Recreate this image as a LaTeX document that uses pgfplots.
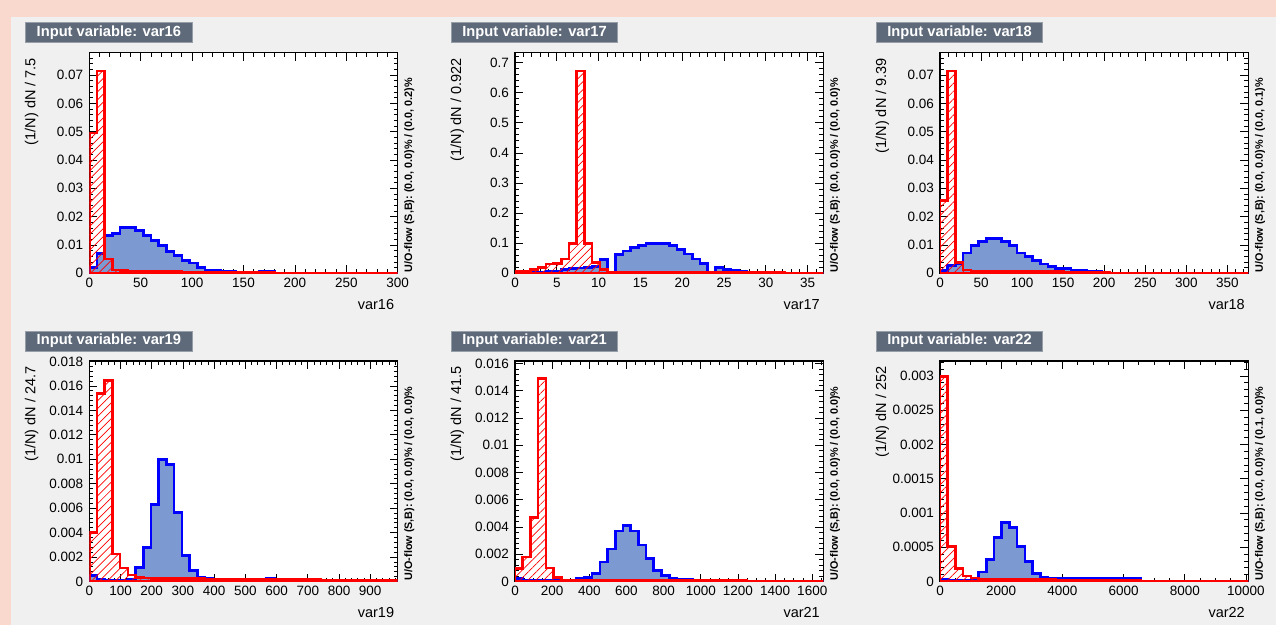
\documentclass[border=0pt]{standalone}
\usepackage{fontspec}
\setmainfont{Liberation Sans}
\usepackage{pgfplots}
\pgfplotsset{compat=1.18}
\usepackage{pgfplotstable}
\usetikzlibrary{patterns.meta}

\definecolor{pinkbg}{RGB}{249,216,205}
\definecolor{graybg}{RGB}{240,240,240}
\definecolor{sigfill}{RGB}{125,153,209}
\definecolor{sigline}{RGB}{0,0,255}
\definecolor{bkgline}{RGB}{255,0,0}
\definecolor{boxfill}{RGB}{94,106,122}
\definecolor{boxline}{RGB}{150,158,168}

\newcommand\tickfont{\fontsize{13.5}{15}\selectfont}
\newcommand\labfont{\fontsize{14.5}{16}\selectfont}
\newcommand\uofont{\fontsize{10.8}{12}\selectfont\bfseries}
\newcommand\boxfont{\fontsize{14.7}{16}\selectfont\bfseries}

\pgfplotstableread{
x s b
0 0.0020 0.0496
7.5 0.0069 0.0714
15 0.0134 0.0051
22.5 0.0140 0.0012
30 0.0161 0.0009
37.5 0.0161 0.0008
45 0.0151 0.0008
52.5 0.0134 0.0008
60 0.0116 0.0007
67.5 0.0098 0.0007
75 0.0078 0.0006
82.5 0.0063 0.0006
90 0.0045 0.0005
97.5 0.0036 0.0005
105 0.0021 0.0005
112.5 0.0012 0.0005
120 0.0011 0.0005
127.5 0.0007 0.0004
135 0.0006 0.0004
142.5 0.0005 0.0004
150 0.0005 0.0004
157.5 0.0005 0.0004
165 0.0006 0.0004
172.5 0.0006 0.0004
180 0.0001 0.0001
187.5 0.0001 0.0001
195 0.0001 0.0001
202.5 0 0.0001
210 0 0.0001
217.5 0 0.0001
225 0 0.0001
232.5 0 0.0001
240 0 0.0001
247.5 0 0.0001
255 0 0.0001
262.5 0 0.0001
270 0 0.0001
277.5 0 0.0001
285 0 0.0001
292.5 0 0.0001
300 0 0.0001
}\tA

\pgfplotstableread{
x s b
0 0.002 0.008
0.922 0.002 0.008
1.844 0.003 0.012
2.766 0.004 0.020
3.688 0.006 0.031
4.61 0.008 0.033
5.532 0.012 0.048
6.454 0.015 0.100
7.376 0.018 0.672
8.298 0.020 0.100
9.22 0.022 0.035
10.142 0.045 0.013
11.064 0.001 0.003
11.986 0.062 0.003
12.908 0.074 0.003
13.83 0.086 0.003
14.752 0.093 0.003
15.674 0.099 0.003
16.596 0.100 0.003
17.518 0.099 0.003
18.44 0.092 0.003
19.362 0.080 0.003
20.284 0.064 0.003
21.206 0.048 0.003
22.128 0.033 0.003
23.05 0.001 0.002
23.972 0.020 0.002
24.894 0.013 0.002
25.816 0.009 0.002
26.738 0.005 0.002
27.66 0.004 0.002
28.582 0.004 0.002
29.504 0.004 0.002
30.426 0.001 0.002
31.348 0.001 0.002
32.27 0.001 0.001
33.192 0.001 0.001
34.114 0.001 0.001
35.036 0.001 0.001
35.958 0.001 0.001
36.88 0.001 0.001
}\tB

\pgfplotstableread{
x s b
0 0.0009 0.0257
9.39 0.0027 0.0714
18.78 0.0035 0.0039
28.17 0.0072 0.0012
37.56 0.0098 0.0008
46.95 0.0113 0.0007
56.34 0.0122 0.0007
65.73 0.0122 0.0007
75.12 0.0113 0.0007
84.51 0.0098 0.0007
93.9 0.0072 0.0006
103.29 0.0059 0.0006
112.68 0.0045 0.0006
122.07 0.0033 0.0006
131.46 0.0024 0.0006
140.85 0.0016 0.0006
150.24 0.0016 0.0004
159.63 0.0010 0.0004
169.02 0.0010 0.0004
178.41 0.0007 0.0004
187.8 0.0007 0.0004
197.19 0.0005 0.0004
206.58 0.0001 0.0001
215.97 0.0001 0.0001
225.36 0 0.0001
234.75 0 0.0001
244.14 0 0.0001
253.53 0 0.0001
262.92 0 0.0001
272.31 0 0.0001
281.7 0 0.0001
291.09 0 0.0001
300.48 0 0.0001
309.87 0 0.0001
319.26 0 0.0001
328.65 0 0.0001
338.04 0 0.0001
347.43 0 0.0001
356.82 0 0.0001
366.21 0 0.0001
375.6 0 0.0001
}\tC

\pgfplotstableread{
x s b
0 0.0005 0.0040
24.7 0.0002 0.01536
49.4 0.0001 0.01645
74.1 0.0001 0.00226
98.8 0.0001 0.00109
123.5 0.0002 0.00054
148.2 0.00117 0.00035
172.9 0.0028 0.0003
197.6 0.0063 0.00025
222.3 0.00996 0.00025
247 0.00955 0.00025
271.7 0.00567 0.00025
296.4 0.00215 0.00025
321.1 0.0009 0.00025
345.8 0.00035 0.00025
370.5 0.0003 0.0002
395.2 0.0002 0.0002
419.9 0.00015 0.0002
444.6 0.00015 0.0002
469.3 0.00015 0.0002
494 0.00015 0.0002
518.7 0.00015 0.0002
543.4 0.00015 0.0002
568.1 0.00025 0.00015
592.8 0.00005 0.00015
617.5 0.00003 0.00015
642.2 0.00003 0.00015
666.9 0.00003 0.00015
691.6 0.00003 0.00015
716.3 0.00003 0.00015
741 0.00003 0.0001
765.7 0.00003 0.0001
790.4 0.00003 0.0001
815.1 0.00003 0.0001
839.8 0.00003 0.0001
864.5 0.00003 0.0001
889.2 0.00003 0.0001
913.9 0.00003 0.0001
938.6 0.00003 0.0001
963.3 0.00003 0.0001
988 0.00003 0.0001
}\tD

\pgfplotstableread{
x s b
0 0.0002 0.00094
41.5 0.0001 0.0018
83 0.0001 0.0047
124.5 0.0001 0.0149
166 0.0001 0.0010
207.5 0.0001 0.0003
249 0.0001 0.0001
290.5 0.0001 0.0001
332 0.0002 0.0001
373.5 0.0003 0.0001
415 0.0006 0.0001
456.5 0.00143 0.0001
498 0.0024 0.0001
539.5 0.0037 0.0001
581 0.0041 0.0001
622.5 0.0037 0.0001
664 0.00267 0.0001
705.5 0.00167 0.0001
747 0.00081 0.0001
788.5 0.00044 0.0001
830 0.00027 0.0001
871.5 0.00015 0.0001
913 0.00015 0.0001
954.5 0.00012 0.0001
996 0.00012 0.0001
1037.5 0.00012 0.0001
1079 0.00012 0.0001
1120.5 0.00012 0.0001
1162 0.00012 0.0001
1203.5 0.00012 0.0001
1245 0.00002 0.00005
1286.5 0.00002 0.00005
1328 0.00002 0.00005
1369.5 0.00002 0.00005
1411 0.00002 0.00005
1452.5 0.00002 0.00005
1494 0.00002 0.00005
1535.5 0.00002 0.00005
1577 0.00002 0.00005
1618.5 0.00002 0.00005
1660 0.00002 0.00005
}\tE

\pgfplotstableread{
x s b
0 0.00003 0.00299
252 0.00002 0.00051
504 0.00002 0.00019
756 0.00002 0.00008
1008 0.00003 0.00005
1260 0.00014 0.00003
1512 0.00032 0.00003
1764 0.00064 0.00003
2016 0.00086 0.00003
2268 0.00079 0.00003
2520 0.00051 0.00003
2772 0.00029 0.00003
3024 0.00012 0.00003
3276 0.00006 0.00003
3528 0.00004 0.00003
3780 0.00004 0.00002
4032 0.00004 0.00002
4284 0.00004 0.00002
4536 0.00004 0.00002
4788 0.00004 0.00002
5040 0.00004 0.00002
5292 0.00004 0.00002
5544 0.00004 0.00002
5796 0.00004 0.00002
6048 0.00004 0.00002
6300 0.00004 0.00002
6552 0 0.00001
6804 0 0.00001
7056 0 0.00001
7308 0 0.00001
7560 0 0.00001
7812 0 0.00001
8064 0 0.00001
8316 0 0.00001
8568 0 0.00001
8820 0 0.00001
9072 0 0.00001
9324 0 0.00001
9576 0 0.00001
9828 0 0.00001
10080 0 0.00001
}\tF

\pgfplotsset{
  tmva/.style={
    scale only axis, width=308.4pt, height=220.6pt, anchor=south west,
    xmin=0, ymin=0, scaled ticks=false,
    axis background/.style={fill=white},
    axis line style={black, line width=1.3pt},
    tick style={black, line width=0.8pt},
    major tick length=8pt, minor tick length=4pt,
    xticklabel style={font=\tickfont, inner sep=0pt, anchor=north, yshift=-4.6pt},
    yticklabel style={font=\tickfont, inner sep=0pt, anchor=east, xshift=-6pt},
  },
  sig/.style={const plot, draw=sigline, line width=2.6pt, line join=miter, fill=sigfill},
  bkg/.style={const plot, draw=bkgline, line width=2.6pt, line join=miter,
    pattern={Lines[angle=45,distance=5.6pt,line width=0.7pt]}, pattern color=bkgline},
}

\newcommand\decor[6]{%
  \node[fill=boxfill, draw=boxline, line width=0.8pt, text=white, font=\boxfont,
        inner xsep=11pt, inner ysep=0pt, minimum height=20pt, anchor=west]
        at ({#1pt-64pt},{#2pt+240.6pt}) {Input variable: #3};
  \node[rotate=90, anchor=east, font=\labfont, inner sep=0pt]
        at ({#1pt-57.6pt},{#2pt+215.3pt}) {(1/N) dN / #4};
  \node[rotate=90, anchor=west, font=\uofont, inner sep=0pt]
        at ({#1pt+320pt},{#2pt+1pt}) {U/O-flow (S,B): #5};
  \node[anchor=east, font=\labfont, inner sep=0pt]
        at ({#1pt+305pt},{#2pt-31.5pt}) {#6};
}

\begin{document}
\begin{tikzpicture}
\fill[pinkbg] (0,0) rectangle (1276pt,625pt);
\fill[graybg] (11pt,0) rectangle (1276pt,608pt);

% ---------- var16
\begin{axis}[tmva, at={(89.3pt,351.7pt)}, xmax=300, ymax=0.0779,
  xtick={0,50,100,150,200,250,300}, xticklabels={0,50,100,150,200,250,300},
  minor xtick={0,10,...,300},
  ytick={0,0.01,0.02,0.03,0.04,0.05,0.06,0.07},
  yticklabels={0,0.01,0.02,0.03,0.04,0.05,0.06,0.07},
  minor ytick={0.002,0.004,0.006,0.008,0.012,0.014,0.016,0.018,0.022,0.024,0.026,0.028,0.032,0.034,0.036,0.038,0.042,0.044,0.046,0.048,0.052,0.054,0.056,0.058,0.062,0.064,0.066,0.068,0.072,0.074,0.076}]
\addplot[sig] table[x=x,y=s]{\tA} \closedcycle;
\addplot[bkg] table[x=x,y=b]{\tA} \closedcycle;
\end{axis}
\decor{89.3}{351.7}{var16}{7.5}{(0.0, 0.0)\% / (0.0, 0.2)\%}{var16}

% ---------- var17
\begin{axis}[tmva, at={(515pt,351.7pt)}, xmax=36.88, ymax=0.733,
  xtick={0,5,10,15,20,25,30,35}, xticklabels={0,5,10,15,20,25,30,35},
  minor xtick={0,1,...,36},
  ytick={0,0.1,0.2,0.3,0.4,0.5,0.6,0.7},
  yticklabels={0,0.1,0.2,0.3,0.4,0.5,0.6,0.7},
  minor ytick={0.02,0.04,0.06,0.08,0.12,0.14,0.16,0.18,0.22,0.24,0.26,0.28,0.32,0.34,0.36,0.38,0.42,0.44,0.46,0.48,0.52,0.54,0.56,0.58,0.62,0.64,0.66,0.68,0.72}]
\addplot[sig] table[x=x,y=s]{\tB} \closedcycle;
\addplot[bkg] table[x=x,y=b]{\tB} \closedcycle;
\end{axis}
\decor{515}{351.7}{var17}{0.922}{(0.0, 0.0)\% / (0.0, 0.0)\%}{var17}

% ---------- var18
\begin{axis}[tmva, at={(940pt,351.7pt)}, xmax=375.6, ymax=0.0779,
  xtick={0,50,100,150,200,250,300,350}, xticklabels={0,50,100,150,200,250,300,350},
  minor xtick={0,10,...,370},
  ytick={0,0.01,0.02,0.03,0.04,0.05,0.06,0.07},
  yticklabels={0,0.01,0.02,0.03,0.04,0.05,0.06,0.07},
  minor ytick={0.002,0.004,0.006,0.008,0.012,0.014,0.016,0.018,0.022,0.024,0.026,0.028,0.032,0.034,0.036,0.038,0.042,0.044,0.046,0.048,0.052,0.054,0.056,0.058,0.062,0.064,0.066,0.068,0.072,0.074,0.076}]
\addplot[sig] table[x=x,y=s]{\tC} \closedcycle;
\addplot[bkg] table[x=x,y=b]{\tC} \closedcycle;
\end{axis}
\decor{940}{351.7}{var18}{9.39}{(0.0, 0.0)\% / (0.0, 0.1)\%}{var18}

% ---------- var19
\begin{axis}[tmva, at={(89.3pt,43.5pt)}, xmax=988, ymax=0.01805,
  xtick={0,100,200,300,400,500,600,700,800,900}, xticklabels={0,100,200,300,400,500,600,700,800,900},
  minor xtick={0,20,...,980},
  ytick={0,0.002,0.004,0.006,0.008,0.01,0.012,0.014,0.016,0.018},
  yticklabels={0,0.002,0.004,0.006,0.008,0.01,0.012,0.014,0.016,0.018},
  minor ytick={0.0004,0.0008,0.0012,0.0016,0.0024,0.0028,0.0032,0.0036,0.0044,0.0048,0.0052,0.0056,0.0064,0.0068,0.0072,0.0076,0.0084,0.0088,0.0092,0.0096,0.0104,0.0108,0.0112,0.0116,0.0124,0.0128,0.0132,0.0136,0.0144,0.0148,0.0152,0.0156,0.0164,0.0168,0.0172,0.0176}]
\addplot[sig] table[x=x,y=s]{\tD} \closedcycle;
\addplot[bkg] table[x=x,y=b]{\tD} \closedcycle;
\end{axis}
\decor{89.3}{43.5}{var19}{24.7}{(0.0, 0.0)\% / (0.0, 0.0)\%}{var19}

% ---------- var21
\begin{axis}[tmva, at={(515pt,43.5pt)}, xmax=1660, ymax=0.0162,
  xtick={0,200,400,600,800,1000,1200,1400,1600}, xticklabels={0,200,400,600,800,1000,1200,1400,1600},
  minor xtick={0,50,...,1650},
  ytick={0,0.002,0.004,0.006,0.008,0.01,0.012,0.014,0.016},
  yticklabels={0,0.002,0.004,0.006,0.008,0.01,0.012,0.014,0.016},
  minor ytick={0.0004,0.0008,0.0012,0.0016,0.0024,0.0028,0.0032,0.0036,0.0044,0.0048,0.0052,0.0056,0.0064,0.0068,0.0072,0.0076,0.0084,0.0088,0.0092,0.0096,0.0104,0.0108,0.0112,0.0116,0.0124,0.0128,0.0132,0.0136,0.0144,0.0148,0.0152,0.0156}]
\addplot[sig] table[x=x,y=s]{\tE} \closedcycle;
\addplot[bkg] table[x=x,y=b]{\tE} \closedcycle;
\end{axis}
\decor{515}{43.5}{var21}{41.5}{(0.0, 0.0)\% / (0.0, 0.0)\%}{var21}

% ---------- var22
\begin{axis}[tmva, at={(940pt,43.5pt)}, xmax=10080, ymax=0.00322,
  xtick={0,2000,4000,6000,8000,10000}, xticklabels={0,2000,4000,6000,8000,10000},
  minor xtick={0,500,...,10000},
  ytick={0,0.0005,0.001,0.0015,0.002,0.0025,0.003},
  yticklabels={0,0.0005,0.001,0.0015,0.002,0.0025,0.003},
  minor ytick={0.0001,0.0002,0.0003,0.0004,0.0006,0.0007,0.0008,0.0009,0.0011,0.0012,0.0013,0.0014,0.0016,0.0017,0.0018,0.0019,0.0021,0.0022,0.0023,0.0024,0.0026,0.0027,0.0028,0.0029,0.0031,0.0032}]
\addplot[sig] table[x=x,y=s]{\tF} \closedcycle;
\addplot[bkg] table[x=x,y=b]{\tF} \closedcycle;
\end{axis}
\decor{940}{43.5}{var22}{252}{(0.0, 0.0)\% / (0.1, 0.0)\%}{var22}

\pgfresetboundingbox
\path[use as bounding box] (0,0) rectangle (1276pt,625pt);
\end{tikzpicture}
\end{document}
